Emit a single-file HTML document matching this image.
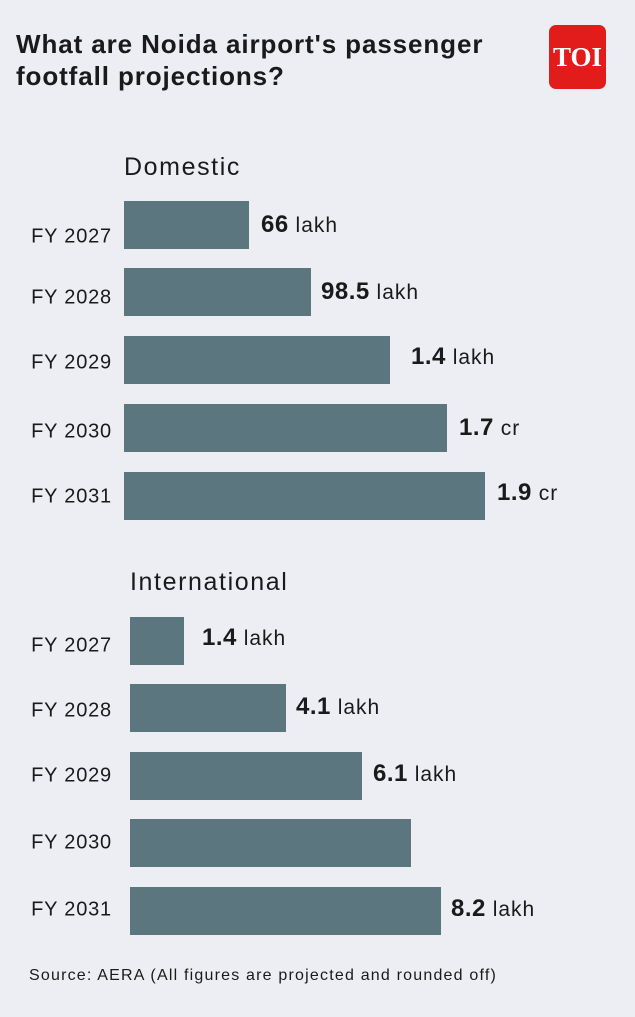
<!DOCTYPE html>
<html><head><meta charset="utf-8"><style>
body{margin:0;width:635px;height:1017px;background:#eceef3;font-family:"Liberation Sans","DejaVu Sans",sans-serif;color:#1a1a1a;position:relative;overflow:hidden}
.a{position:absolute;white-space:nowrap}
.t{left:16px;font-weight:bold;font-size:26px;line-height:32px;letter-spacing:0.9px}
.bar{position:absolute;background:#5c7680;height:48px}
.lab{position:absolute;font-size:20px;letter-spacing:0.8px;text-align:right;width:112px;left:0;transform:translateY(-50%)}
.val{position:absolute;font-size:21px;letter-spacing:1px;transform:translateY(-50%)}
.val b{font-size:24px;letter-spacing:0.5px}
.h{font-size:25px;letter-spacing:1.6px}
</style></head><body>
<div class="a t" style="top:28px">What are Noida airport's passenger</div>
<div class="a t" style="top:60px">footfall projections?</div>
<div class="a" style="left:549px;top:25px;width:57px;height:64px;background:#e21b1b;border-radius:7px;color:#fff;font-family:'Liberation Serif',serif;font-size:27px;font-weight:bold;line-height:64px;text-align:center">TOI</div>

<div class="a h" style="left:124px;top:153px">Domestic</div>
<div class="bar" style="left:124px;top:201px;width:125px"></div>
<div class="bar" style="left:124px;top:268px;width:187px"></div>
<div class="bar" style="left:124px;top:336px;width:266px"></div>
<div class="bar" style="left:124px;top:404px;width:323px"></div>
<div class="bar" style="left:124px;top:472px;width:361px"></div>
<div class="lab" style="top:237px">FY 2027</div>
<div class="lab" style="top:298px">FY 2028</div>
<div class="lab" style="top:363px">FY 2029</div>
<div class="lab" style="top:432px">FY 2030</div>
<div class="lab" style="top:497px">FY 2031</div>
<div class="val" style="left:261px;top:225px"><b>66</b> lakh</div>
<div class="val" style="left:321px;top:292px"><b>98.5</b> lakh</div>
<div class="val" style="left:411px;top:357px"><b>1.4</b> lakh</div>
<div class="val" style="left:459px;top:428px"><b>1.7</b> cr</div>
<div class="val" style="left:497px;top:493px"><b>1.9</b> cr</div>

<div class="a h" style="left:130px;top:568px">International</div>
<div class="bar" style="left:130px;top:617px;width:54px"></div>
<div class="bar" style="left:130px;top:684px;width:156px"></div>
<div class="bar" style="left:130px;top:752px;width:232px"></div>
<div class="bar" style="left:130px;top:819px;width:281px"></div>
<div class="bar" style="left:130px;top:887px;width:311px"></div>
<div class="lab" style="top:646px">FY 2027</div>
<div class="lab" style="top:711px">FY 2028</div>
<div class="lab" style="top:776px">FY 2029</div>
<div class="lab" style="top:843px">FY 2030</div>
<div class="lab" style="top:910px">FY 2031</div>
<div class="val" style="left:202px;top:638px"><b>1.4</b> lakh</div>
<div class="val" style="left:296px;top:707px"><b>4.1</b> lakh</div>
<div class="val" style="left:373px;top:774px"><b>6.1</b> lakh</div>
<div class="val" style="left:451px;top:909px"><b>8.2</b> lakh</div>

<div class="a" style="left:29px;top:967px;font-size:16px;letter-spacing:1.2px">Source: AERA (All figures are projected and rounded off)</div>
</body></html>
